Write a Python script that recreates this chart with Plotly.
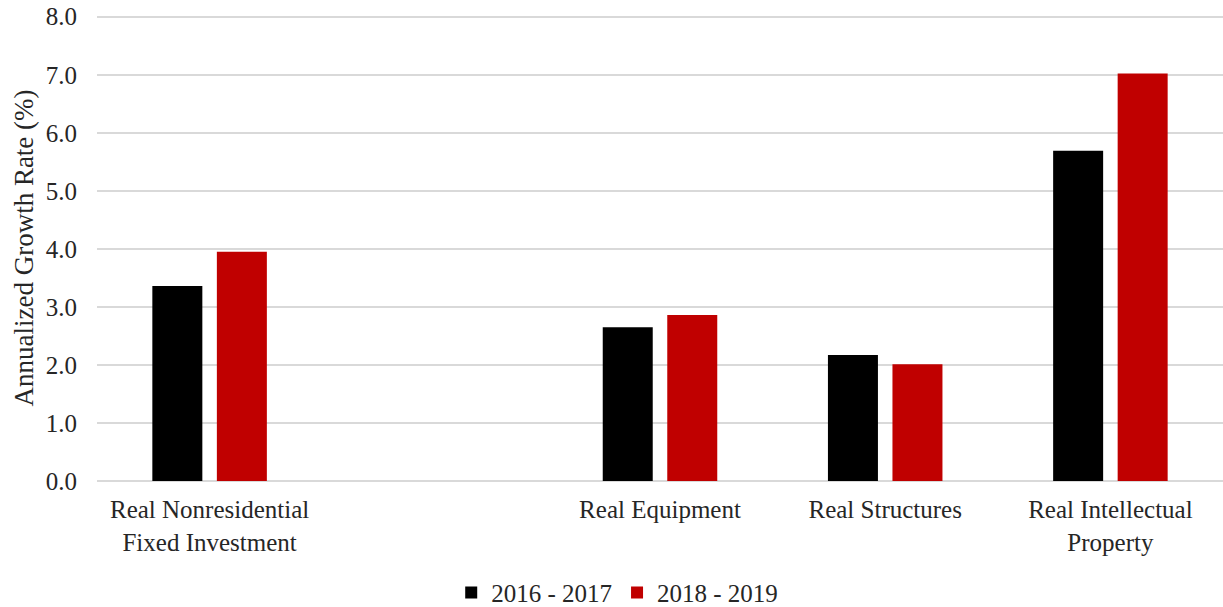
import plotly.graph_objects as go

categories = ["Real Nonresidential<br>Fixed Investment", " ", "Real Equipment", "Real Structures", "Real Intellectual<br>Property"]
series_names = ["2016 - 2017", "2018 - 2019"]
vals_2016_2017 = [3.36, None, 2.65, 2.17, 5.69]
vals_2018_2019 = [3.95, None, 2.86, 2.01, 7.02]
colors = ["#000000", "#C00000"]
y_ticks = [0, 1, 2, 3, 4, 5, 6, 7, 8]
y_tick_labels = ["0.0", "1.0", "2.0", "3.0", "4.0", "5.0", "6.0", "7.0", "8.0"]

font_family = "Liberation Serif, Times New Roman, serif"
txt_col = "#262626"

fig = go.Figure()
for name, vals, col in zip(series_names, [vals_2016_2017, vals_2018_2019], colors):
    fig.add_trace(go.Bar(x=categories, y=vals, name=name, marker=dict(color=col, line=dict(width=0))))

fig.update_layout(
    width=1223, height=607,
    paper_bgcolor="white", plot_bgcolor="white",
    margin=dict(l=97, r=0, t=15, b=126, autoexpand=False),
    barmode="group", bargap=0.427, bargroupgap=0.225,
    font=dict(family=font_family, size=25, color=txt_col),
    showlegend=True,
    legend=dict(orientation="h", x=0.462, xanchor="center", y=-0.24, yanchor="middle",
                font=dict(size=25, color=txt_col), itemwidth=30, tracegroupgap=0),
    xaxis=dict(type="category", categoryorder="array", categoryarray=categories,
               showgrid=False, showline=False, ticks="outside", ticklen=6, tickcolor="rgba(0,0,0,0)",
               tickfont=dict(size=25, color=txt_col), automargin=False),
    yaxis=dict(range=[0, 8.03], tickvals=y_ticks, ticktext=y_tick_labels,
               showgrid=True, gridcolor="#d9d9d9", gridwidth=1.5,
               zeroline=True, zerolinecolor="#d9d9d9", zerolinewidth=1.5,
               ticks="outside", ticklen=14, tickcolor="rgba(0,0,0,0)",
               ticklabeloverflow="allow",
               tickfont=dict(size=25, color=txt_col), automargin=False,
               title=dict(text="Annualized Growth Rate (%)", font=dict(size=27, color=txt_col), standoff=4)),
)

fig.write_html("out.html", config={"displayModeBar": False},
               post_script="document.body.style.margin='0';document.body.style.overflow='hidden';")
